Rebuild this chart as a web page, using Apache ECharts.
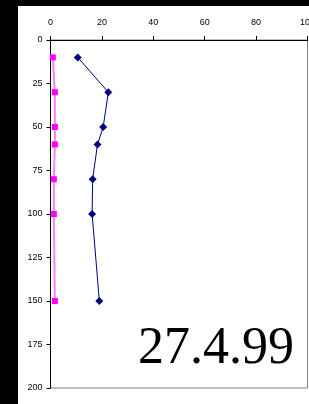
<!DOCTYPE html>
<html><head><meta charset="utf-8">
<script src="https://cdn.jsdelivr.net/npm/echarts@6/dist/echarts.min.js"></script>
<style>
html,body{margin:0;padding:0;background:#000;width:309px;height:404px;overflow:hidden}
#bg{position:absolute;left:18px;top:6px;width:291px;height:398px;background:#fff}
#c{position:absolute;left:0;top:0;width:309px;height:404px}
</style></head>
<body><div id="bg"></div><div id="c"></div>
<script>
const depths = [10, 30, 50, 60, 80, 100, 150];
const pinkValues = [0.9, 1.7, 1.7, 1.7, 1.3, 1.3, 1.7];
const blueValues = [10.6, 22.5, 20.5, 18.3, 16.4, 16.2, 19.0];
const dateLabel = '27.4.99';

const chart = echarts.init(document.getElementById('c'), null, {renderer: 'canvas'});
const lbl = {color: '#000', fontFamily: 'Liberation Sans, Arial', fontSize: 9};
chart.setOption({
  backgroundColor: 'transparent',
  animation: false,
  grid: {left: 50.5, right: 1.5, top: 40, bottom: 16, show: true, borderColor: '#808080', borderWidth: 1, backgroundColor: '#fff', containLabel: false, outerBoundsMode: 'none'},
  xAxis: {
    type: 'value', position: 'top', min: 0, max: 100, interval: 20,
    axisLine: {show: true, onZero: false, lineStyle: {color: '#000', width: 1}},
    axisTick: {show: true, length: 4, lineStyle: {color: '#000'}},
    axisLabel: Object.assign({margin: 13, showMaxLabel: true}, lbl),
    splitLine: {show: false}
  },
  yAxis: {
    type: 'value', inverse: true, min: 0, max: 200, interval: 25,
    axisLine: {show: true, onZero: false, lineStyle: {color: '#000', width: 1}},
    axisTick: {show: true, length: 4, lineStyle: {color: '#000'}},
    axisLabel: Object.assign({margin: 8}, lbl),
    splitLine: {show: false}
  },
  series: [
    {type: 'line', data: depths.map((d, i) => [pinkValues[i], d]),
     symbol: 'rect', symbolSize: 6, itemStyle: {color: '#ff00ff'},
     lineStyle: {color: '#ff80ff', width: 2}},
    {type: 'line', data: depths.map((d, i) => [blueValues[i], d]),
     symbol: 'diamond', symbolSize: 8, itemStyle: {color: '#000080'},
     lineStyle: {color: '#000080', width: 1}}
  ],
  graphic: [{type: 'text', right: 15, top: 323, style: {text: dateLabel, font: '52px "Liberation Serif", "Times New Roman", serif', fill: '#000'}}]
});
</script></body></html>
